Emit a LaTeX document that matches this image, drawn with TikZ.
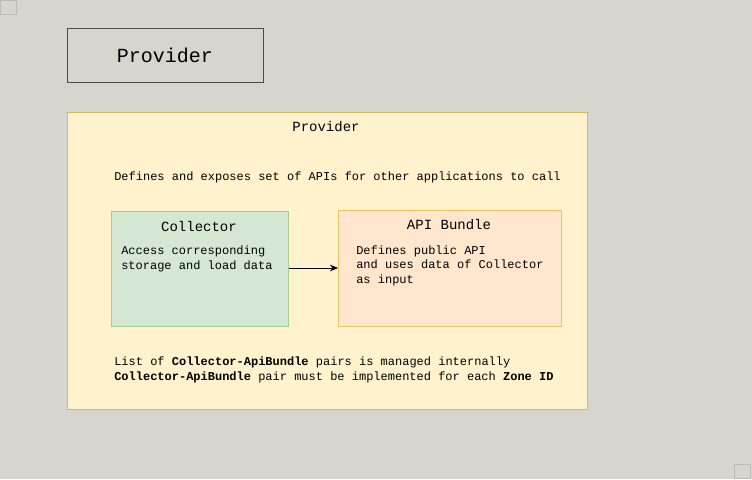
\documentclass[tikz,border=0pt]{standalone}
\usepackage{fontspec}
\setmonofont{Liberation Mono}
\usetikzlibrary{arrows.meta}
\definecolor{canvas}{HTML}{D7D6CE}
\definecolor{frame}{HTML}{BDBDB7}
\definecolor{provfill}{HTML}{FFF2CC}
\definecolor{provline}{HTML}{D9B95E}
\definecolor{collfill}{HTML}{D5E8D4}
\definecolor{collline}{HTML}{A8CC8C}
\definecolor{apifill}{HTML}{FFE6CC}
\definecolor{apiline}{HTML}{EEC35E}
\tikzstyle{block} = [rectangle, draw, line width=0.75pt, inner sep=0pt]
\tikzstyle{txt} = [inner sep=0pt, align=left, anchor=base west,
    font=\ttfamily\fontsize{9}{10.9}\selectfont]
\tikzstyle{head} = [inner sep=0pt, anchor=base,
    font=\ttfamily\fontsize{10.5}{12}\selectfont]

\begin{document}
\begin{tikzpicture}[x=0.75pt,y=-0.75pt,>={Stealth[length=6pt,width=5pt]}]

  \useasboundingbox[fill=canvas] (0,0) rectangle (752,479);
  \draw[frame,line width=0.75pt] (0.5,0.5) rectangle (16,14);
  \draw[frame,line width=0.75pt] (734,464) rectangle (750,478.5);

  % header box
  \node[block, draw=black!70, minimum width=196*0.75pt, minimum height=54*0.75pt,
        anchor=north west] (provhead) at (67,28) {};
  \node[inner sep=0pt, anchor=base, font=\ttfamily\fontsize{15}{18}\selectfont]
        (provheadtxt) at (165,62) {Provider};

  % provider container
  \node[block, draw=provline, fill=provfill, minimum width=520*0.75pt,
        minimum height=297*0.75pt, anchor=north west] (provider) at (67,112) {};
  \node[head] (providertitle) at (326,131.5) {Provider};
  \node[txt] (providerdesc) at (114,180)
        {Defines and exposes set of APIs for other applications to call};

  % collector and bundle (base = last line)
  \node[block, draw=collline, fill=collfill, minimum width=177*0.75pt,
        minimum height=115*0.75pt, anchor=north west] (collector) at (111,211) {};
  \node[head] (collectortitle) at (199,231) {Collector};
  \node[txt] (collectordesc) at (121,269)
        {Access corresponding\\storage and load data};

  \node[block, draw=apiline, fill=apifill, minimum width=223*0.75pt,
        minimum height=116*0.75pt, anchor=north west] (bundle) at (338,210) {};
  \node[head] (bundletitle) at (449,229.5) {API Bundle};
  \node[txt] (bundledesc) at (356,283.5)
        {Defines public API\\and uses data of Collector\\as input};

  \draw[->, line width=0.6pt] (collector.east |- 0,268) -- (bundle.west |- 0,268);

  % notes
  \node[txt] (notes) at (114,380.2)
        {List of \textbf{Collector-ApiBundle} pairs is managed internally\\
         \textbf{Collector-ApiBundle} pair must be implemented for each \textbf{Zone ID}};
\end{tikzpicture}
\end{document}
